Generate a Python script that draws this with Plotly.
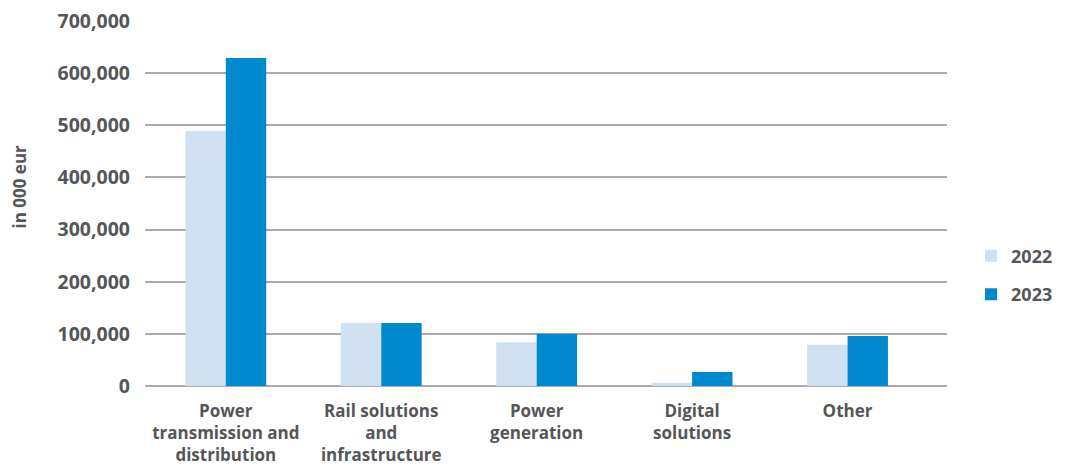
import plotly.graph_objects as go

categories = ["Power<br>transmission and<br>distribution", "Rail solutions<br>and<br>infrastructure",
              "Power<br>generation", "Digital<br>solutions", "Other"]
values_2022 = [489000, 121000, 84000, 6000, 79000]
values_2023 = [629000, 121000, 100000, 27000, 96000]
y_ticks = [0, 100000, 200000, 300000, 400000, 500000, 600000, 700000]
y_title = "in 000 eur"

font_family = "Open Sans, Roboto, Arial, sans-serif"
text_color = "#555658"

fig = go.Figure()
fig.add_trace(go.Bar(name="2022", x=categories, y=values_2022, marker_color="#cfe0f0",
                     marker_line_width=0, legendgroup="g2022"))
fig.add_trace(go.Bar(name="2023", x=categories, y=values_2023, marker_color="#0089cf",
                     marker_line_width=0, legendgroup="g2023"))

# page body has an 8px default margin, so the figure is drawn 8px in
fig.update_layout(
    width=1058, height=458,
    margin=dict(l=137, r=119, t=13, b=80, autoexpand=False),
    paper_bgcolor="white", plot_bgcolor="white",
    barmode="group", bargap=0.48, bargroupgap=0,
    font=dict(family=font_family, size=16, color=text_color, weight="bold"),
    showlegend=True,
    legend=dict(x=1.03, y=0.304, xanchor="left", yanchor="middle",
                font=dict(size=18, color=text_color, weight="bold"),
                tracegroupgap=12, itemwidth=30),
    xaxis=dict(range=[-0.52, 4.64], showgrid=False, zeroline=False, showline=False,
               ticks="", automargin=False, ticklabelstandoff=13,
               tickfont=dict(size=17, color=text_color, weight="bold")),
    yaxis=dict(range=[0, 700000], tickvals=y_ticks, tickformat=",d",
               showgrid=True, gridcolor="#aaaaaa", gridwidth=1.5,
               zeroline=True, zerolinecolor="#aaaaaa", zerolinewidth=1.5,
               showline=False, ticks="", ticklabelstandoff=14, automargin=False,
               ticklabeloverflow="allow",
               tickfont=dict(size=19.5, color=text_color, weight="bold")),
    annotations=[dict(text=y_title, textangle=-90, xref="paper", yref="paper",
                      x=(18.5 - 145) / 802, y=(386 - 187) / 365,
                      xanchor="center", yanchor="middle", showarrow=False,
                      font=dict(size=17, color=text_color, weight="bold"))],
)

fig.write_html("out.html")
